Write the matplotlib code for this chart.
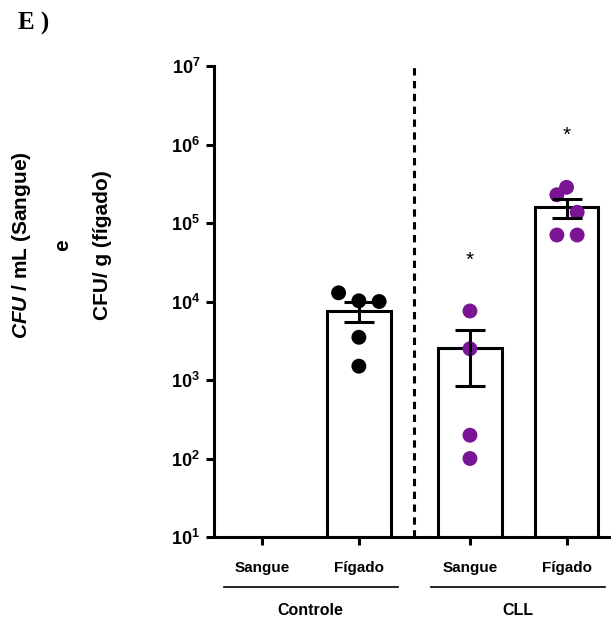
import matplotlib
matplotlib.use("Agg")
import matplotlib.pyplot as plt
import matplotlib.transforms as mtransforms
import numpy as np

plt.rcParams["font.family"] = ["Liberation Sans", "DejaVu Sans"]
plt.rcParams["font.weight"] = "bold"
plt.rcParams["mathtext.fontset"] = "custom"
plt.rcParams["mathtext.rm"] = "Liberation Sans:bold"
plt.rcParams["mathtext.bf"] = "Liberation Sans:bold"
plt.rcParams["mathtext.bfit"] = "Liberation Sans:bold:italic"

# CFU counts per animal
controle_figado = [12900, 10200, 10000, 3500, 1500]
cll_sangue = [7570, 2500, 198, 100]
cll_figado = [229000, 285000, 137000, 70300, 70300]

tick_labels = ["Sangue", "Fígado", "Sangue", "Fígado"]
group_names = ["Controle", "CLL"]
ytick_exps = [1, 2, 3, 4, 5, 6, 7]

BLACK = "#000000"
PURPLE = "#7a1596"

# category positions (Controle sangue has no data)
x_pos = np.array([0.0, 1.0, 2.15, 3.15])
series = [
    (x_pos[1], controle_figado, BLACK, [-0.21, 0.0, 0.21, 0.0, 0.0]),
    (x_pos[2], cll_sangue, PURPLE, [0.0, 0.0, 0.0, 0.0]),
    (x_pos[3], cll_figado, PURPLE, [-0.1, 0.0, 0.11, -0.1, 0.11]),
]
Y_MIN, Y_MAX = 10, 1e7
LW = 2.2

fig = plt.figure(figsize=(6.11, 6.21), dpi=100)
ax = fig.add_axes([214 / 611, 1 - 537 / 621, 396 / 611, 471 / 621])
ax.set_yscale("log")
ax.set_ylim(Y_MIN, Y_MAX)
ax.set_xlim(-0.5, 3.6)

for xc, vals, color, offs in series:
    vals = np.asarray(vals, dtype=float)
    mean = vals.mean()
    sem = vals.std(ddof=1) / np.sqrt(len(vals))
    ax.bar(xc, mean - Y_MIN, bottom=Y_MIN, width=0.66, facecolor="white",
           edgecolor=BLACK, linewidth=LW, zorder=2)
    ax.scatter(xc + np.asarray(offs), vals, s=115, color=color,
               edgecolors="none", zorder=3)
    ax.errorbar(xc, mean, yerr=sem, fmt="none", ecolor=BLACK,
                elinewidth=LW, capsize=11, capthick=LW, zorder=4)

# significance marks
for xc, ys in [(x_pos[2], 3.3e4), (x_pos[3], 1.3e6)]:
    ax.text(xc, ys, "*", ha="center", va="center", fontsize=15,
            fontweight="normal")

# separator between groups
ax.axvline((x_pos[1] + x_pos[2]) / 2, color=BLACK, linewidth=LW,
           linestyle=(0, (2.4, 1.8)), zorder=1)

for side in ["top", "right"]:
    ax.spines[side].set_visible(False)
for side in ["left", "bottom"]:
    ax.spines[side].set_linewidth(LW)

ax.set_yticks([10.0 ** k for k in ytick_exps])
ax.set_yticklabels([r"$\mathbf{10^{%d}}$" % k for k in ytick_exps], fontsize=13)
ax.minorticks_off()
ax.tick_params(axis="y", direction="out", length=6, width=LW, pad=4)

ax.set_xticks(x_pos)
ax.set_xticklabels(tick_labels, fontsize=11, fontweight="bold")
ax.tick_params(axis="x", direction="out", length=6, width=LW, pad=11)

# group underlines and names
trans = mtransforms.blended_transform_factory(ax.transData, ax.transAxes)
for name, (a, b) in zip(group_names, [(x_pos[0], x_pos[1]), (x_pos[2], x_pos[3])]):
    mid = (a + b) / 2
    ax.plot([mid - 0.9, mid + 0.9], [-0.107, -0.107], color=BLACK,
            linewidth=1.2, transform=trans, clip_on=False)
    ax.text(mid, -0.155, name, transform=trans, ha="center", va="center",
            fontsize=11.5, fontweight="bold")

# y axis title, three centred lines
ty = 1 - 245 / 621
fig.text(22 / 611, ty, r"$\mathbfit{CFU}$ / mL (Sangue)", rotation=90,
         ha="center", va="center", fontsize=15, fontweight="bold")
fig.text(63 / 611, ty, "e", rotation=90,
         ha="center", va="center", fontsize=15, fontweight="bold")
fig.text(103 / 611, ty, "CFU/ g (fígado)", rotation=90,
         ha="center", va="center", fontsize=15, fontweight="bold")

fig.text(18 / 611, 1 - 23 / 621, "E )", ha="left", va="center", fontsize=18,
         fontweight="bold", family=["Liberation Serif", "DejaVu Serif"])

fig.savefig("out.png", dpi=100)
